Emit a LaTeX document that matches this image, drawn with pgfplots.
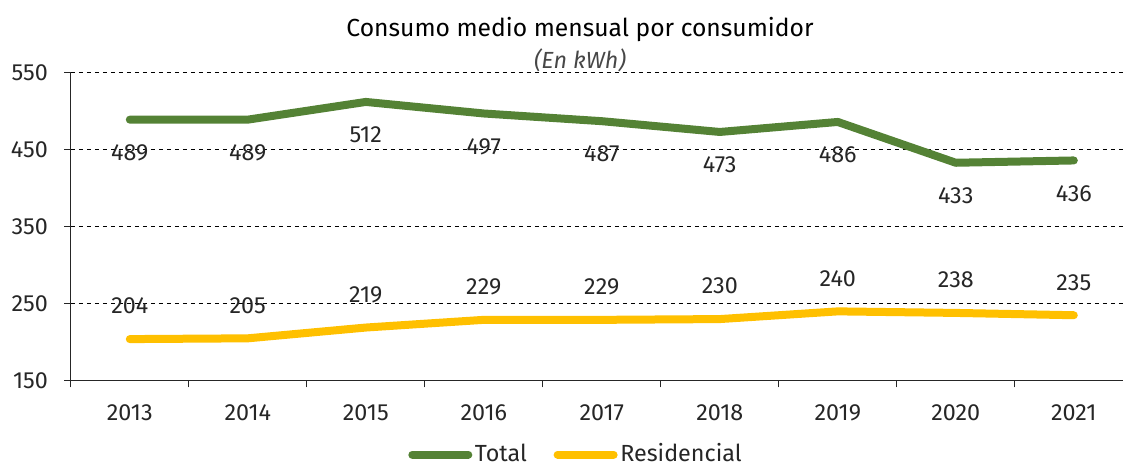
\documentclass[border=0pt]{standalone}
\usepackage{pgfplots}
\pgfplotsset{compat=1.18}
\usepackage{fontspec}
\setmainfont{Fira Sans}
\definecolor{gTotal}{HTML}{548235}
\definecolor{gRes}{HTML}{FFC000}
\definecolor{txt}{HTML}{262626}
\begin{document}
\fontsize{18pt}{21pt}\selectfont
\begin{tikzpicture}[x=0.75pt,y=0.75pt]
\useasboundingbox (0,0) rectangle (1123,470);
\begin{axis}[
  at={(60,116)}, anchor=south west,
  scale only axis, width=796.5pt, height=231pt,
  xmin=-0.5, xmax=8.5, ymin=150, ymax=550,
  axis x line*=bottom, axis y line*=left,
  axis line style={txt, line width=0.9pt, -},
  xtick={0,...,8},
  xticklabels={2013,2014,2015,2016,2017,2018,2019,2020,2021},
  minor xtick={-0.5,0.5,...,8.5},
  ytick={150,250,350,450,550},
  major x tick style={draw=none},
  minor tick length=5pt, major tick length=5pt,
  tick align=outside,
  tick style={txt, line width=0.9pt},
  ymajorgrids,
  grid style={black, line width=0.7pt, dash pattern=on 3.5pt off 2.5pt},
  clip=false,
  /pgf/number format/assume math mode=true,
  /pgf/number format/.cd, 1000 sep={}, /pgfplots/.cd,
  ticklabel style={font=\fontsize{17.5pt}{20pt}\selectfont, text=txt},
  yticklabel style={xshift=-6pt},
  xticklabel style={yshift=-7pt},
  nodes near coords,
  every node near coord/.append style={font=\fontsize{17.5pt}{20pt}\selectfont, text=txt, anchor=center},
  legend style={at={(0.476,-0.24)}, anchor=center, draw=none, fill=none,
    legend columns=-1, font=\fontsize{17.5pt}{20pt}\selectfont, text=txt, inner sep=0pt,
    /tikz/every even column/.append style={column sep=18pt}},
  legend image code/.code={\draw[#1, line cap=round] (0pt,0pt) -- (42pt,0pt);},
]
\addplot[gTotal, line width=6pt, line cap=round, line join=round, mark=none,
  every node near coord/.append style={yshift=-24.75pt}]
  coordinates {(0,489) (1,489) (2,512) (3,497) (4,487) (5,473) (6,486) (7,433) (8,436)};
\addlegendentry{Total}
\addplot[gRes, line width=6pt, line cap=round, line join=round, mark=none,
  every node near coord/.append style={yshift=24.75pt}]
  coordinates {(0,204) (1,205) (2,219) (3,229) (4,229) (5,230) (6,240) (7,238) (8,235)};
\addlegendentry{Residencial}
\end{axis}
\node[text=black, font=\fontsize{18.5pt}{21pt}\selectfont] at (580,440) {Consumo medio mensual por consumidor};
\node[text=txt!85, font=\fontsize{17.5pt}{20pt}\selectfont\itshape] at (580,410) {(En kWh)};
\end{tikzpicture}
\end{document}
